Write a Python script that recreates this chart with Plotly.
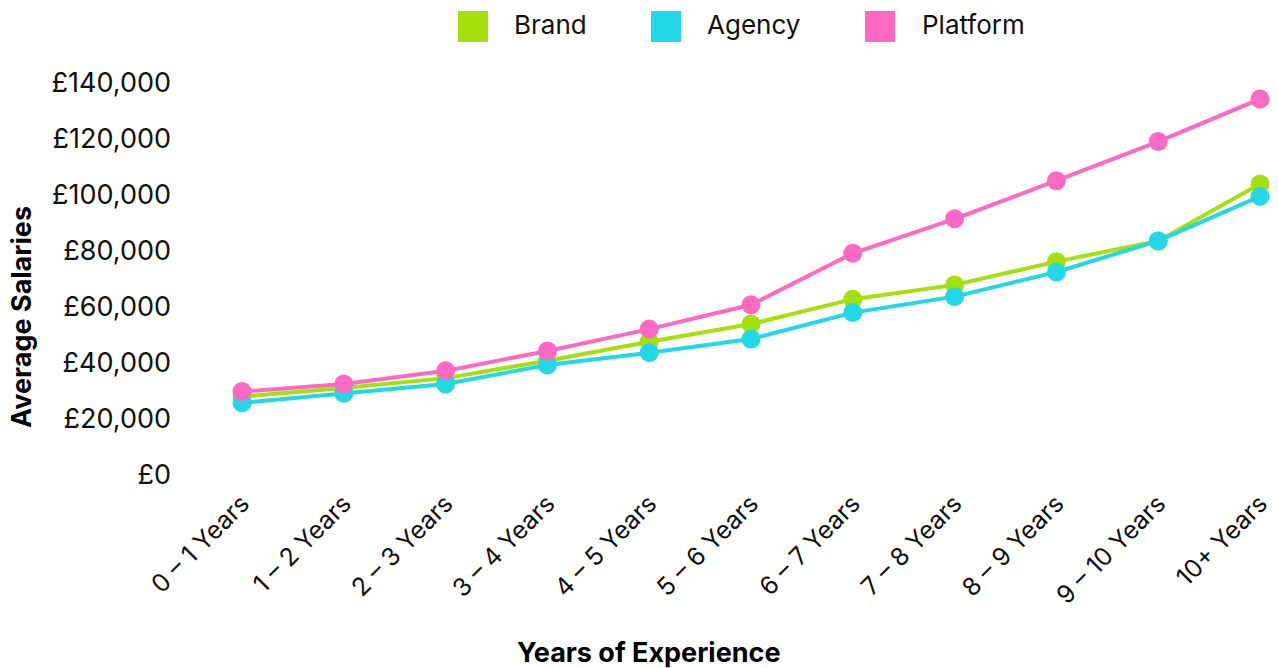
import plotly.graph_objects as go

# Average salary by years of experience, per employer type
categories = ["0 – 1 Years", "1 – 2 Years", "2 – 3 Years", "3 – 4 Years", "4 – 5 Years",
              "5 – 6 Years", "6 – 7 Years", "7 – 8 Years", "8 – 9 Years", "9 – 10 Years",
              "10+ Years"]
brand = [28000, 31100, 34600, 40800, 47600, 53900, 62800, 67900, 76200, 83600, 103900]
agency = [25800, 29200, 32500, 39300, 43700, 48600, 58000, 63700, 72500, 83600, 99500]
platform = [29800, 32500, 37200, 44300, 52100, 60800, 79200, 91500, 105100, 119100, 134300]

series = [("Brand", brand, "#A6E00C"),
          ("Agency", agency, "#22D7E6"),
          ("Platform", platform, "#FF69C4")]

FONT = "Inter"
W, H = 1278, 668
ML, MR, MT, MB = 242, 18, 83, 193

fig = go.Figure()
for name, vals, color in series:
    fig.add_trace(go.Scatter(
        x=categories, y=vals, name=name, mode="lines+markers",
        line=dict(color=color, width=4),
        marker=dict(color=color, size=19),
        cliponaxis=False, showlegend=False,
    ))

pw = W - ML - MR
ph = H - MT - MB

def px_x(x):
    return (x - ML) / pw

def px_y(y):
    return (H - MB - y) / ph

# Legend drawn as square swatches with labels along the top
shapes = []
annotations = []
legend_items = [("Brand", "#A6E00C", 458, 512),
                ("Agency", "#22D7E6", 651, 705),
                ("Platform", "#FF69C4", 865, 920)]
for label, color, sx, tx in legend_items:
    shapes.append(dict(type="rect", xref="paper", yref="paper",
                       x0=px_x(sx), x1=px_x(sx + 30), y0=px_y(42), y1=px_y(11),
                       fillcolor=color, line=dict(width=0)))
    annotations.append(dict(text=label, xref="paper", yref="paper",
                            x=px_x(tx), y=px_y(25), xanchor="left", yanchor="middle",
                            showarrow=False, font=dict(family=FONT, size=26, color="#111")))

annotations.append(dict(text="<b>Average Salaries</b>", xref="paper", yref="paper",
                        x=px_x(21), y=px_y(317), textangle=-90,
                        xanchor="center", yanchor="middle", showarrow=False,
                        font=dict(family=FONT, size=27, color="#000")))
annotations.append(dict(text="<b>Years of Experience</b>", xref="paper", yref="paper",
                        x=px_x(649), y=px_y(652),
                        xanchor="center", yanchor="middle", showarrow=False,
                        font=dict(family=FONT, size=27, color="#000")))

fig.update_layout(
    width=W, height=H,
    margin=dict(l=ML, r=MR, t=MT, b=MB, autoexpand=False),
    paper_bgcolor="white", plot_bgcolor="white",
    font=dict(family=FONT, size=25, color="#111"),
    shapes=shapes, annotations=annotations,
    xaxis=dict(type="category", range=[0, 10], showgrid=False, zeroline=False,
               showline=False, tickangle=-45, ticks="", ticklabelstandoff=8,
               tickfont=dict(family=FONT, size=25, color="#111")),
    yaxis=dict(range=[0, 140000], dtick=20000, tickprefix="£", tickformat=",d",
               showgrid=False, zeroline=False, showline=False, ticks="",
               ticklabelstandoff=70,
               tickfont=dict(family=FONT, size=27, color="#111")),
)

fig.write_html("out.html")
